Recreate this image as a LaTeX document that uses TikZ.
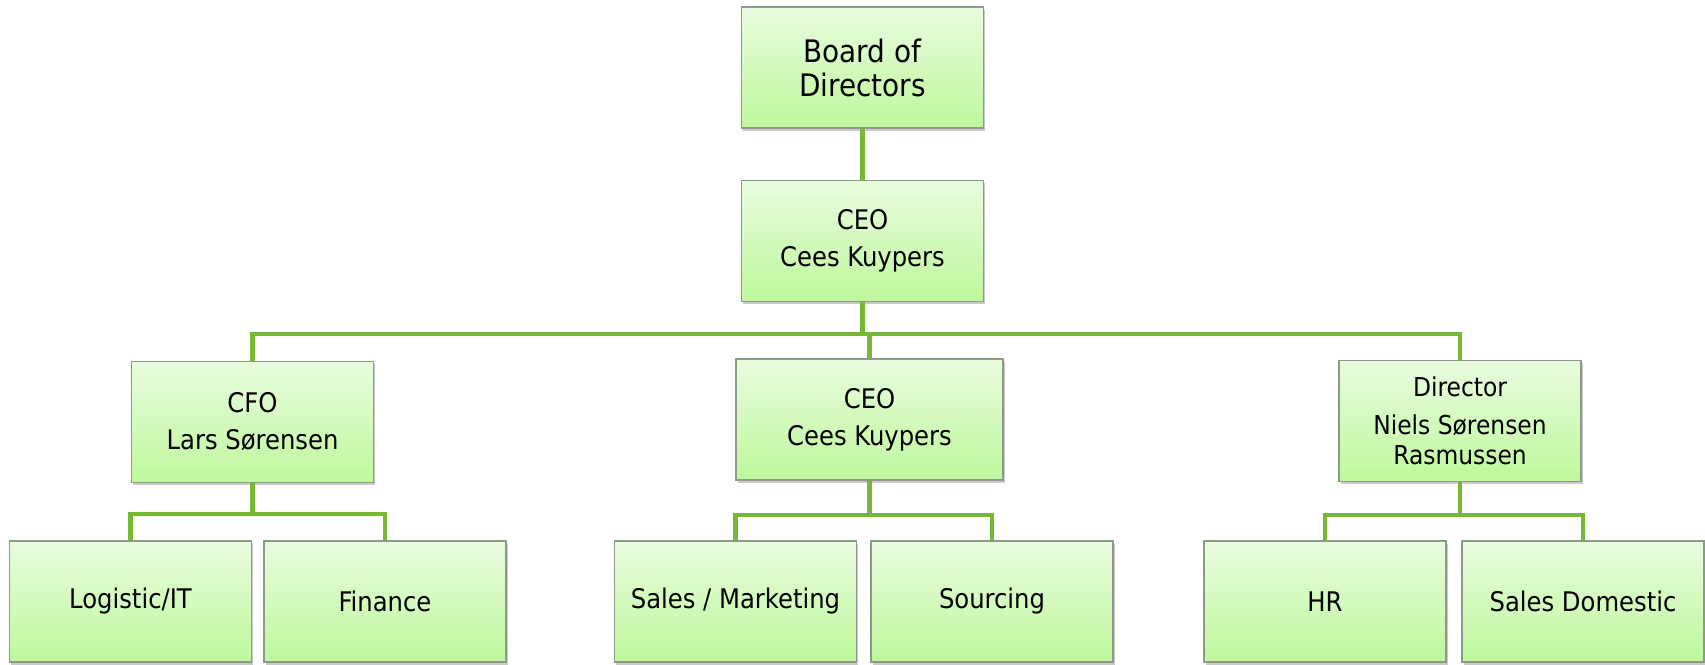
\documentclass[tikz,border=0pt]{standalone}
\usepackage{fontspec}
\setmainfont{DejaVu Sans Condensed}
\usetikzlibrary{shadows}
\definecolor{boxtop}{HTML}{E9FCDF}
\definecolor{boxbot}{HTML}{BEF89C}
\definecolor{boxline}{HTML}{8E9A88}
\definecolor{linkgreen}{HTML}{76B832}
\tikzset{
    unit/.style={shape=rectangle,draw=boxline,line width=1.2pt,
        top color=boxtop,bottom color=boxbot,
        minimum width=242pt,minimum height=121pt,align=center,
        font=\fontsize{27}{37}\selectfont,
        drop shadow={shadow xshift=1.5pt,shadow yshift=-3pt,opacity=0.35,fill=black!60}},
    link/.style={draw=linkgreen,line width=4.5pt}
}
\begin{document}
\begin{tikzpicture}[x=1pt,y=1pt]
    \useasboundingbox (0,0) rectangle (1705,664);
    \node[unit,font=\fontsize{31}{34}\selectfont] (board) at (862.5,596.5) {Board of\\Directors};
    \node[unit] (ceo) at (862.5,423) {CEO\\Cees Kuypers};
    \node[unit] (cfo) at (252.5,242) {CFO\\Lars Sørensen};
    \node[unit,minimum width=267pt] (ceoB) at (869.5,244.5) {CEO\\Cees Kuypers};
    \node[unit,font=\fontsize{26}{30}\selectfont] (dir) at (1460,243) {Director\\[8pt]Niels Sørensen\\Rasmussen};
    \node[unit] (logit) at (130.5,62.5) {Logistic/IT};
    \node[unit] (fin) at (385,62.5) {Finance};
    \node[unit] (sales) at (735.5,62.5) {Sales / Marketing};
    \node[unit] (src) at (992,62.5) {Sourcing};
    \node[unit] (hr) at (1325,62.5) {HR};
    \node[unit] (dom) at (1583,62.5) {Sales Domestic};
    \coordinate (bus) at (862.5,330);
    \coordinate (busB) at (869.5,330);
    \coordinate (cfobus) at (252.5,150);
    \coordinate (ceobus) at (869.5,149);
    \coordinate (dirbus) at (1460,149);
    \path [link] (board) -- (ceo);
    \path [link] (ceo.south) -- (bus) -| (cfo.north);
    \path [link] (bus) -- (busB) -| (dir.north);
    \path [link] (busB) -- (ceoB.north);
    \path [link] (cfo.south) -- (cfobus) -| (logit.north);
    \path [link] (cfobus) -| (fin.north);
    \path [link] (ceoB.south) -- (ceobus) -| (sales.north);
    \path [link] (ceobus) -| (src.north);
    \path [link] (dir.south) -- (dirbus) -| (hr.north);
    \path [link] (dirbus) -| (dom.north);
\end{tikzpicture}
\end{document}
